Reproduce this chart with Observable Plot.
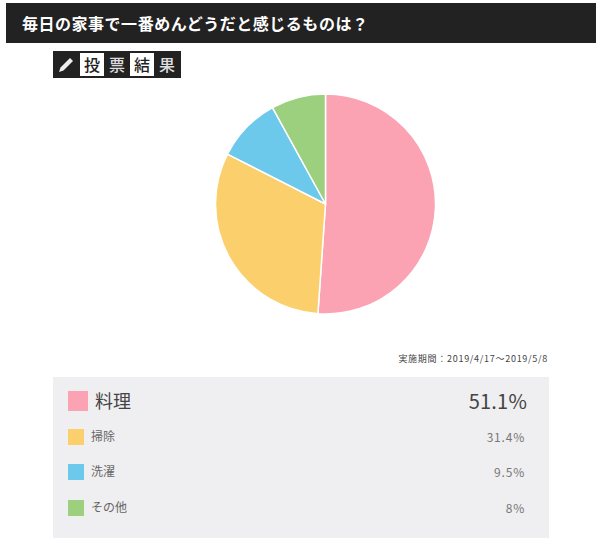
<!DOCTYPE html>
<html lang="ja">
<head>
<meta charset="utf-8">
<script src="https://cdn.jsdelivr.net/npm/d3@7"></script>
<script src="https://cdn.jsdelivr.net/npm/@observablehq/plot@0.6"></script>
<style>
html,body{margin:0;padding:0;background:#fff;width:600px;height:548px;overflow:hidden;font-family:"Noto Sans CJK JP","Noto Sans",sans-serif;}
.abs{position:absolute;}
#head{left:6px;top:3px;width:590px;height:40px;background:#222;color:#fff;font-size:16px;font-weight:700;line-height:40px;padding-left:16px;box-sizing:border-box;letter-spacing:.52px;}
#badge{left:53px;top:51px;width:128px;height:27px;background:#222;}
.cell{position:absolute;top:2px;width:24px;height:23px;line-height:23px;text-align:center;font-size:16px;font-weight:500;color:#ddd;}
.cell.on{background:#fff;color:#222;}
#chart{left:0;top:84px;}
#period{right:52px;top:352px;font-size:9px;line-height:14px;color:#444;letter-spacing:.72px;}
#panel{left:53px;top:377px;width:496px;height:161px;background:#efeef0;}
.sw{position:absolute;}
.lab,.val{position:absolute;white-space:nowrap;color:#666;}
.val{text-align:right;}
</style>
</head>
<body>
<div id="head" class="abs"></div>
<div id="badge" class="abs"></div>
<div id="chart" class="abs"></div>
<div id="period" class="abs"></div>
<div id="panel" class="abs"></div>
<script>
const titleText = "毎日の家事で一番めんどうだと感じるものは？";
const badgeChars = ["投", "票", "結", "果"];
const periodText = "実施期間：2019/4/17〜2019/5/8";
const categories = ["料理", "掃除", "洗濯", "その他"];
const shares = [51.1, 31.4, 9.5, 8];
const shareLabels = ["51.1%", "31.4%", "9.5%", "8%"];
const colors = ["#fba3b2", "#fbcf6b", "#6cc9ec", "#9ccf7e"];

document.getElementById("head").textContent = titleText;
document.getElementById("period").textContent = periodText;

const badge = document.getElementById("badge");
badge.innerHTML = '<svg width="24" height="27" style="position:absolute;left:3px;top:0"><path d="M3 21 L4.5 16.5 L14 7 L17 10 L7.5 19.5 Z" fill="#eee"/></svg>';
badgeChars.forEach((c, i) => {
  const d = document.createElement("div");
  d.className = "cell" + (i % 2 === 0 ? " on" : "");
  d.style.left = (27 + i * 25) + "px";
  d.textContent = c;
  badge.appendChild(d);
});

const rows = categories.map((category, i) => ({category, share: shares[i], label: shareLabels[i], color: colors[i]}));

const chart = Plot.plot({
  width: 600,
  height: 240,
  margin: 0,
  x: {domain: [0, 100], range: [0, 2 * Math.PI], axis: null},
  y: {axis: null},
  color: {domain: categories, range: colors},
  marks: [
    Plot.barX(rows, Plot.stackX({
      x: "share",
      fill: "category",
      render(index, scales, values, dimensions) {
        const cx = 325.5, cy = dimensions.height / 2, r = 110;
        const arc = d3.arc().innerRadius(0).outerRadius(r);
        const g = d3.create("svg:g").attr("transform", `translate(${cx},${cy})`);
        for (const i of index) {
          g.append("path")
            .attr("d", arc({startAngle: values.x1[i], endAngle: values.x2[i]}))
            .attr("fill", values.fill[i])
            .attr("stroke", "#fff")
            .attr("stroke-width", 1.5)
            .attr("stroke-linejoin", "round");
        }
        return g.node();
      }
    }))
  ]
});
document.getElementById("chart").appendChild(chart);

const panel = document.getElementById("panel");
const rowTops = [14, 52, 87, 123];
rows.forEach((r, i) => {
  const big = i === 0;
  const s = big ? 20 : 16, top = rowTops[i];
  const sw = document.createElement("div");
  sw.className = "sw";
  sw.style.cssText = `left:15px;top:${top}px;width:${s}px;height:${s}px;background:${r.color}`;
  panel.appendChild(sw);
  const lab = document.createElement("div");
  lab.className = "lab";
  lab.textContent = r.category;
  lab.style.cssText = `left:${big ? 42 : 38}px;top:${top}px;line-height:${s - 2}px;font-size:${big ? 18 : 12}px;color:${big ? "#444" : "#666"}`;
  panel.appendChild(lab);
  const val = document.createElement("div");
  val.className = "val";
  val.textContent = r.label;
  val.style.cssText = `right:${big ? 22 : 24}px;top:${top}px;line-height:${s}px;font-size:${big ? 20 : 12}px;letter-spacing:${big ? 0.2 : 0.8}px;color:${big ? "#444" : "#777"}`;
  panel.appendChild(val);
});
</script>
</body>
</html>
